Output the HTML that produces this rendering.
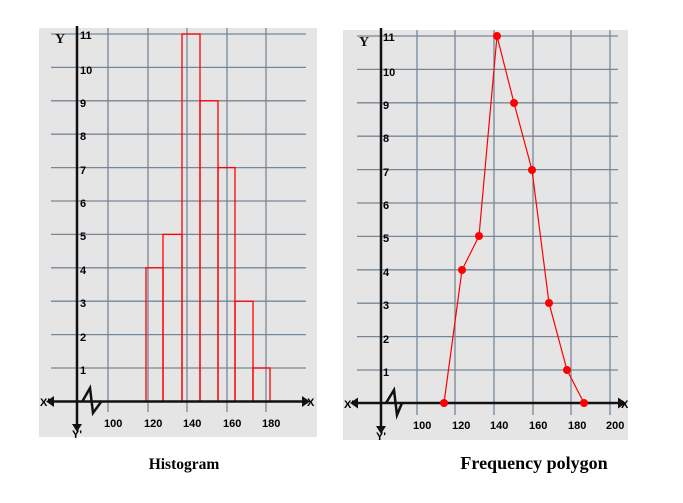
<!DOCTYPE html>
<html><head><meta charset="utf-8"><style>
body{margin:0;background:#fff;}
text{font-family:"Liberation Sans",Arial,sans-serif;}
</style></head><body>
<svg width="683" height="498" viewBox="0 0 683 498" xmlns="http://www.w3.org/2000/svg">
<!-- LEFT PANEL -->
<rect x="39" y="28" width="278" height="409" fill="#e5e5e5"/>
<g stroke="#768798" stroke-width="1.3">
<line x1="51" x2="306" y1="34" y2="34"/><line x1="51" x2="306" y1="67.4" y2="67.4"/><line x1="51" x2="306" y1="100.8" y2="100.8"/><line x1="51" x2="306" y1="134.2" y2="134.2"/><line x1="51" x2="306" y1="167.6" y2="167.6"/><line x1="51" x2="306" y1="201" y2="201"/><line x1="51" x2="306" y1="234.4" y2="234.4"/><line x1="51" x2="306" y1="267.8" y2="267.8"/><line x1="51" x2="306" y1="301.2" y2="301.2"/><line x1="51" x2="306" y1="334.6" y2="334.6"/><line x1="51" x2="306" y1="368" y2="368"/>
<line x1="108" x2="108" y1="28" y2="412"/><line x1="148" x2="148" y1="28" y2="412"/><line x1="187" x2="187" y1="28" y2="412"/><line x1="227" x2="227" y1="28" y2="412"/><line x1="266" x2="266" y1="28" y2="412"/>
</g>
<g fill="none" stroke="#f00" stroke-width="1.3">
<rect x="146" y="267.8" width="17" height="133.6"/>
<rect x="163" y="234.4" width="19" height="167"/>
<rect x="182" y="34" width="18" height="367.4"/>
<rect x="200" y="100.8" width="18" height="300.6"/>
<rect x="218" y="167.6" width="17" height="233.8"/>
<rect x="235" y="301.2" width="18" height="100.2"/>
<rect x="253" y="368" width="17" height="33.4"/>
</g>
<g stroke="#111" stroke-width="2.5" fill="none">
<line x1="77" y1="26" x2="77" y2="428"/>
<line x1="54" y1="401.5" x2="302" y2="401.5"/>
<polyline points="82,402 90,388 93,413 101,402"/>
</g>
<polygon points="46,401.5 54,396 54,407" fill="#111"/>
<polygon points="310,401.5 302,396 302,407" fill="#111"/>
<polygon points="77,432 72,424 82,424" fill="#111"/>
<g font-size="11" font-weight="bold" fill="#000">
<text x="80" y="39">11</text><text x="80" y="74">10</text><text x="80" y="107">9</text><text x="80" y="140">8</text><text x="80" y="174">7</text><text x="80" y="207">6</text><text x="80" y="240">5</text><text x="80" y="274">4</text><text x="80" y="307">3</text><text x="80" y="341">2</text><text x="80" y="374">1</text>
<text x="104" y="427">100</text><text x="144" y="427">120</text><text x="183" y="427">140</text><text x="223" y="427">160</text><text x="262" y="427">180</text>
<text x="40" y="406">X'</text><text x="307" y="406">X</text><text x="72" y="438">Y'</text>
</g>
<text x="55" y="43" font-size="14" font-weight="bold" fill="#111" style="font-family:'Liberation Serif',serif">Y</text>
<text x="184" y="469" font-size="15.5" font-weight="bold" text-anchor="middle" style="font-family:'Liberation Serif',serif">Histogram</text>

<!-- RIGHT PANEL -->
<rect x="343" y="30" width="285" height="410" fill="#e5e5e5"/>
<g stroke="#768798" stroke-width="1.3">
<line x1="357" x2="618" y1="36" y2="36"/><line x1="357" x2="618" y1="69.4" y2="69.4"/><line x1="357" x2="618" y1="102.8" y2="102.8"/><line x1="357" x2="618" y1="136.2" y2="136.2"/><line x1="357" x2="618" y1="169.6" y2="169.6"/><line x1="357" x2="618" y1="203" y2="203"/><line x1="357" x2="618" y1="236.4" y2="236.4"/><line x1="357" x2="618" y1="269.8" y2="269.8"/><line x1="357" x2="618" y1="303.2" y2="303.2"/><line x1="357" x2="618" y1="336.6" y2="336.6"/><line x1="357" x2="618" y1="370" y2="370"/>
<line x1="417" x2="417" y1="30" y2="415"/><line x1="455" x2="455" y1="30" y2="415"/><line x1="494" x2="494" y1="30" y2="415"/><line x1="533" x2="533" y1="30" y2="415"/><line x1="571" x2="571" y1="30" y2="415"/><line x1="610" x2="610" y1="30" y2="415"/>
</g>
<g stroke="#111" stroke-width="2.5" fill="none">
<line x1="381" y1="28" x2="381" y2="430"/>
<line x1="358" y1="403" x2="618" y2="403"/>
<polyline points="386,403 394,390 397,415 402,403"/>
</g>
<polygon points="350,403 358,397.5 358,408.5" fill="#111"/>
<polygon points="626,403 618,397.5 618,408.5" fill="#111"/>
<polygon points="381,434 376,426 386,426" fill="#111"/>
<polyline points="444,403 462,270 479,236 497,36 514,103 532,170 549,303 567,370 584,403" fill="none" stroke="#f00" stroke-width="1.2"/>
<g fill="#f00">
<circle cx="444" cy="403" r="4"/><circle cx="462" cy="270" r="4"/><circle cx="479" cy="236" r="4"/><circle cx="497" cy="36" r="4"/><circle cx="514" cy="103" r="4"/><circle cx="532" cy="170" r="4"/><circle cx="549" cy="303" r="4"/><circle cx="567" cy="370" r="4"/><circle cx="584" cy="403" r="4"/>
</g>
<g font-size="11" font-weight="bold" fill="#000">
<text x="383" y="41">11</text><text x="383" y="76">10</text><text x="383" y="109">9</text><text x="383" y="142">8</text><text x="383" y="176">7</text><text x="383" y="209">6</text><text x="383" y="242">5</text><text x="383" y="276">4</text><text x="383" y="309">3</text><text x="383" y="343">2</text><text x="383" y="376">1</text>
<text x="413" y="429">100</text><text x="452" y="429">120</text><text x="490" y="429">140</text><text x="529" y="429">160</text><text x="568" y="429">180</text><text x="606" y="429">200</text>
<text x="344" y="408">X'</text><text x="621" y="408">X</text><text x="376" y="440">Y'</text>
</g>
<text x="359" y="46" font-size="14" font-weight="bold" fill="#111" style="font-family:'Liberation Serif',serif">Y</text>
<text x="534" y="469" font-size="18" font-weight="bold" text-anchor="middle" style="font-family:'Liberation Serif',serif">Frequency polygon</text>
</svg>
</body></html>
